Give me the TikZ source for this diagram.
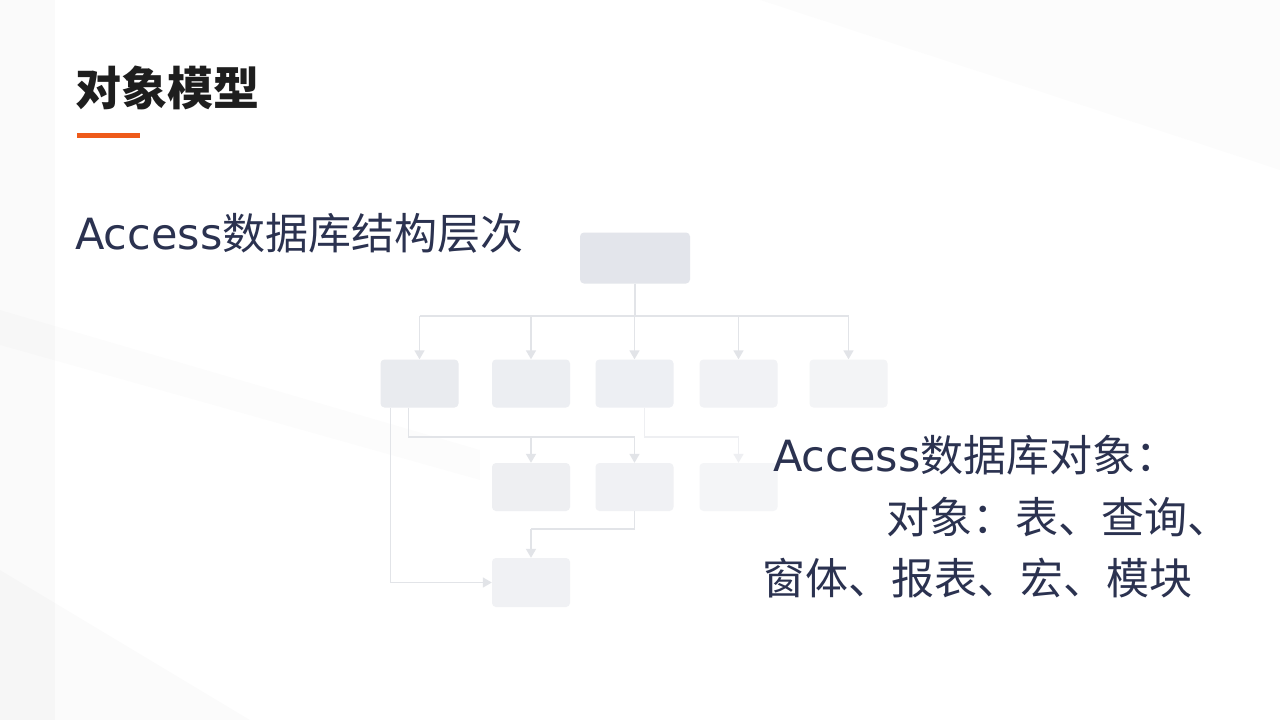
\documentclass[tikz,border=0pt]{standalone}
\usepackage{fontspec}
\setmainfont{Noto Sans CJK SC}
\newfontfamily\latin{DejaVu Sans}
\usetikzlibrary{arrows.meta}
\definecolor{ink}{HTML}{2B3250}
\definecolor{heading}{HTML}{1E1E1E}
\definecolor{accent}{HTML}{EE5A1A}
\definecolor{wire}{HTML}{E2E4E8}
\definecolor{faintwire}{HTML}{EEEFF2}
\tikzset{
  box/.style={rounded corners=4pt, minimum width=78pt, minimum height=48pt, inner sep=0pt},
  link/.style={draw=wire, line width=1.6pt},
  arr/.style={link, -{Triangle[width=10pt,length=9pt]}},
  body/.style={ink, font=\fontsize{43}{51}\selectfont, anchor=west, inner sep=0pt},
}
\begin{document}
\begin{tikzpicture}[x=1pt,y=-1pt]
	\useasboundingbox (0,0) rectangle (1280,720);
	% faint backdrop
	\fill[white] (0,0) rectangle (1280,720);
	\fill[black,opacity=0.018] (0,0) -- (55,0) -- (55,720) -- (0,720) -- cycle;
	\fill[black,opacity=0.015] (0,570) -- (250,720) -- (0,720) -- cycle;
	\fill[black,opacity=0.01] (760,0) -- (1280,0) -- (1280,170) -- cycle;
	\fill[black,opacity=0.01] (0,310) -- (480,450) -- (480,480) -- (0,345) -- cycle;

	% heading
	\node[anchor=west, inner sep=0pt, heading, font=\fontsize{46}{55}\selectfont\bfseries] (title) at (75,88) {对象模型};
	\fill[accent] (77,133) rectangle (140,138);
	\node[body] (levels) at (75,233) {{\latin Access}数据库结构层次};

	% hierarchy boxes
	\node[box, minimum width=110pt, minimum height=51pt, fill={rgb,255:red,227;green,229;blue,235}] (top) at (635,258) {};
	\node[box, fill={rgb,255:red,233;green,235;blue,239}] (r11) at (419.5,383.5) {};
	\node[box, fill={rgb,255:red,236;green,238;blue,242}] (r12) at (531,383.5) {};
	\node[box, fill={rgb,255:red,237;green,239;blue,243}] (r13) at (634.5,383.5) {};
	\node[box, fill={rgb,255:red,241;green,242;blue,245}] (r14) at (738.5,383.5) {};
	\node[box, fill={rgb,255:red,243;green,244;blue,246}] (r15) at (848.5,383.5) {};
	\node[box, fill={rgb,255:red,238;green,239;blue,242}] (r21) at (531,487) {};
	\node[box, fill={rgb,255:red,240;green,241;blue,244}] (r22) at (634.5,487) {};
	\node[box, fill={rgb,255:red,244;green,245;blue,247}] (r23) at (738.5,487) {};
	\node[box, minimum height=49pt, fill={rgb,255:red,240;green,241;blue,244}] (r31) at (531,582.5) {};

	\coordinate (bus) at (635,316);
	\coordinate (mid) at (0,437);
	\coordinate (low) at (0,529);

	% top level to first row
	\draw[link] (top) -- (bus);
	\draw[link] (r11 |- bus) -- (r15 |- bus);
	\foreach \b in {r11,r12,r13,r14,r15}
		\draw[arr] (\b |- bus) -- (\b);

	% first row to second row
	\draw[link] ([xshift=-11pt]r11.south) |- (r22 |- mid);
	\draw[arr] (r21 |- mid) -- (r21);
	\draw[arr] (r22 |- mid) -- (r22);
	\draw[link, draw=faintwire] ([xshift=10pt]r13.south) |- (r23 |- mid);
	\draw[arr, draw=faintwire] (r23 |- mid) -- (r23);

	% down to third row
	\draw[link] (r22.south) -- (r22 |- low) -- (r31 |- low);
	\draw[arr] (r31 |- low) -- (r31);
	\draw[arr] ([xshift=-29pt]r11.south) |- (r31.west);

	% object list
	\node[body] (objs) at (773,455) {{\latin Access}数据库对象：};
	\node[body] (kinds) at (886,517) {对象：表、查询、};
	\node[body] (more) at (762,578) {窗体、报表、宏、模块};
\end{tikzpicture}
\end{document}
